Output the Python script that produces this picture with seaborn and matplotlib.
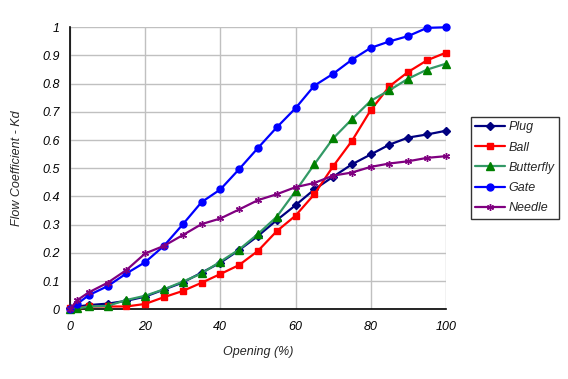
import pandas as pd
import matplotlib.pyplot as plt
import seaborn as sns

# valve opening (%) and flow coefficient
opening = [0, 2, 5, 10, 15, 20, 25, 30, 35, 40, 45, 50, 55, 60, 65, 70, 75, 80, 85, 90, 95, 100]
plug = [0.005, 0.01, 0.015, 0.02, 0.03, 0.045, 0.07, 0.095, 0.13, 0.165, 0.21, 0.26, 0.316, 0.369,
        0.425, 0.47, 0.514, 0.549, 0.584, 0.609, 0.62, 0.633]
ball = [0.005, 0.005, 0.01, 0.01, 0.01, 0.019, 0.043, 0.065, 0.094, 0.125, 0.157, 0.207, 0.277, 0.332,
        0.408, 0.507, 0.597, 0.706, 0.791, 0.842, 0.883, 0.91]
butterfly = [0.0, 0.003, 0.01, 0.012, 0.033, 0.048, 0.071, 0.098, 0.127, 0.169, 0.212, 0.267, 0.328, 0.419,
             0.514, 0.606, 0.674, 0.739, 0.777, 0.818, 0.85, 0.871]
gate = [0.0, 0.02, 0.05, 0.082, 0.127, 0.167, 0.225, 0.301, 0.38, 0.425, 0.497, 0.572, 0.645, 0.713,
        0.793, 0.835, 0.885, 0.927, 0.95, 0.969, 0.998, 1.0]
needle = [0.0, 0.033, 0.06, 0.094, 0.139, 0.198, 0.225, 0.263, 0.302, 0.322, 0.354, 0.387, 0.408, 0.433,
          0.448, 0.474, 0.485, 0.505, 0.517, 0.525, 0.537, 0.543]

series = {"Plug": plug, "Ball": ball, "Butterfly": butterfly, "Gate": gate, "Needle": needle}
# (line colour, marker colour, marker, size)
styles = {
    "Plug": ("#000080", "#000080", "D", 4.5),
    "Ball": ("#FF0000", "#FF0000", "s", 5),
    "Butterfly": ("#339966", "#008000", "^", 5.5),
    "Gate": ("#0000FF", "#0000FF", "o", 5),
    "Needle": ("#800080", "#800080", (6, 2, 0), 5),
}

sns.set_style("white")
plt.rcParams['font.family'] = ['Liberation Sans', 'DejaVu Sans']
plt.rcParams['font.style'] = 'italic'

fig = plt.figure(figsize=(5.68, 3.79), dpi=100)
ax = fig.add_axes([0.1232, 0.1839, 0.6618, 0.7441])

for name, vals in series.items():
    lc, mc, mk, ms = styles[name]
    df = pd.DataFrame({"Opening": opening, "Kd": vals})
    sns.lineplot(data=df, x="Opening", y="Kd", ax=ax, color=lc, linewidth=1.6,
                 marker=mk, markersize=ms, markerfacecolor=mc, markeredgecolor=mc,
                 markeredgewidth=1, label=name, clip_on=False, zorder=3)

ax.set_xlim(0, 100)
ax.set_ylim(0, 1)
ax.set_xticks(range(0, 101, 20))
ax.set_yticks([i / 10 for i in range(11)])
ax.set_yticklabels(["0"] + [f"{i/10:.1f}" for i in range(1, 10)] + ["1"])
ax.grid(True, color="#C0C0C0", linewidth=1)
ax.set_axisbelow(True)
for s in ["top", "right"]:
    ax.spines[s].set_visible(False)
for s in ["left", "bottom"]:
    ax.spines[s].set_color("black")
    ax.spines[s].set_linewidth(1.2)
ax.tick_params(axis="both", direction="out", length=4, width=1, colors="black", labelsize=9)
ax.tick_params(axis="x", pad=4.5)
ax.tick_params(axis="y", pad=3.5)

ax.set_xlabel("Opening (%)", fontsize=9, labelpad=9)
ax.set_ylabel("Flow Coefficient - Kd", fontsize=9, labelpad=14)

leg = ax.legend(loc="upper left", bbox_to_anchor=(1.066, 0.682), borderaxespad=0, fontsize=9,
                frameon=True, fancybox=False, edgecolor="black", borderpad=0.35, labelspacing=0.66,
                handlelength=2.4, handletextpad=0.3)
leg.get_frame().set_linewidth(1)

fig.savefig("out.png", dpi=100)
